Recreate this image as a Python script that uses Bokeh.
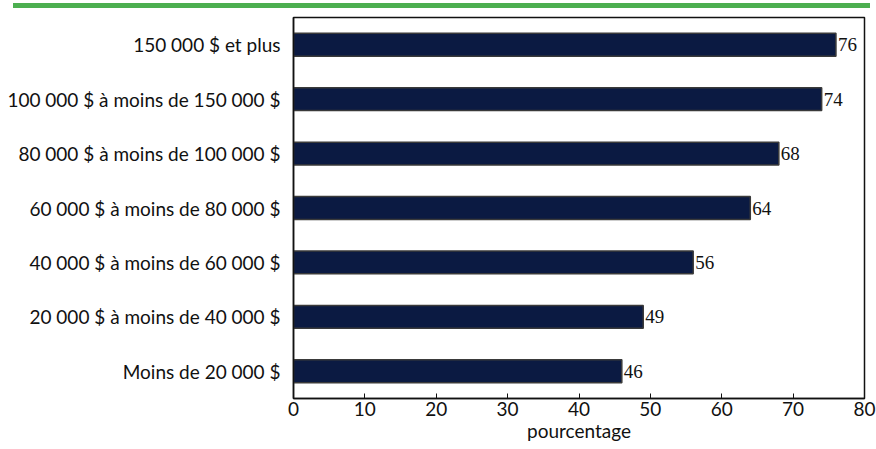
from bokeh.plotting import figure
from bokeh.models import ColumnDataSource, FactorRange, FixedTicker, LabelSet, Div
from bokeh.layouts import column
from bokeh.embed import file_html
from bokeh.resources import INLINE

categories = [
    "Moins de 20 000 $",
    "20 000 $ à moins de 40 000 $",
    "40 000 $ à moins de 60 000 $",
    "60 000 $ à moins de 80 000 $",
    "80 000 $ à moins de 100 000 $",
    "100 000 $ à moins de 150 000 $",
    "150 000 $ et plus",
]
values = [46, 49, 56, 64, 68, 74, 76]
x_ticks = [0, 10, 20, 30, 40, 50, 60, 70, 80]

FONT = "Lato"

src = ColumnDataSource(dict(cat=categories, val=values, lab=[str(v) for v in values]))

p = figure(width=876, height=441, output_backend="svg", toolbar_location=None,
           y_range=FactorRange(*categories, range_padding=0), x_range=(0, 80),
           min_border_left=293, min_border_right=12, min_border_top=9, min_border_bottom=51)

p.hbar(y="cat", right="val", left=0, height=0.42, source=src,
       fill_color="#0b1a42", line_color="#3a3a3a", line_width=1.5)

labels = LabelSet(x="val", y="cat", text="lab", source=src, x_offset=2,
                  text_align="left", text_baseline="middle",
                  text_font=FONT, text_font_size="19px", text_color="#111111")
p.add_layout(labels)

p.xgrid.visible = False
p.ygrid.visible = False
p.outline_line_color = "#111111"
p.outline_line_width = 1.5

xa = p.xaxis[0]
xa.ticker = FixedTicker(ticks=x_ticks)
xa.major_tick_in = 5
xa.major_tick_out = 0
xa.minor_tick_line_color = None
xa.axis_line_color = "#111111"
xa.axis_line_width = 1.5
xa.major_tick_line_color = "#111111"
xa.major_label_text_font = FONT
xa.major_label_text_font_size = "19px"
xa.major_label_text_color = "#111111"
xa.major_label_standoff = 3
xa.axis_label = "pourcentage"
xa.axis_label_text_font = FONT
xa.axis_label_text_font_size = "19px"
xa.axis_label_text_font_style = "normal"
xa.axis_label_text_color = "#111111"
xa.axis_label_standoff = 0

ya = p.yaxis[0]
ya.major_tick_line_color = None
ya.minor_tick_line_color = None
ya.axis_line_color = "#111111"
ya.axis_line_width = 1.5
ya.major_label_text_font = FONT
ya.major_label_text_font_size = "19px"
ya.major_label_text_color = "#111111"
ya.major_label_standoff = 7

green = Div(text="", width=857, height=5, margin=(3, 0, 0, 13),
            styles={"background-color": "#4caf50"})

layout = column(green, p, spacing=0)

open("out.html", "w").write(file_html(layout, INLINE))
